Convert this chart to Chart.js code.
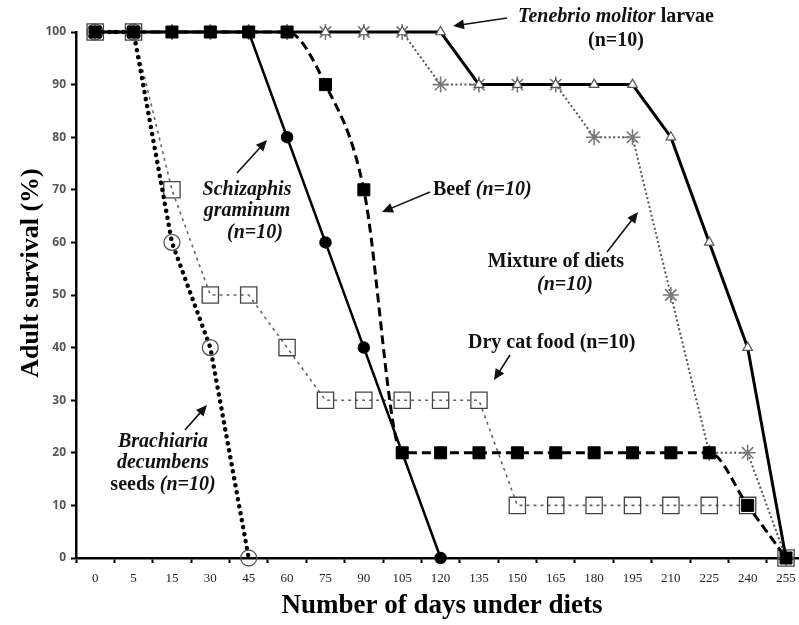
<!DOCTYPE html>
<html>
<head>
<meta charset="utf-8">
<script src="https://cdn.jsdelivr.net/npm/chart.js@4.4.1/dist/chart.umd.min.js"></script>
<style>
    html, body { margin: 0; padding: 0; background: #fff; overflow: hidden; }
    #wrap { position: relative; width: 818px; height: 625px; }
</style>
</head>
<body>
<div id="wrap"><canvas id="survivalChart" width="818" height="625"></canvas></div>
<script>
// Days under diets (category axis)
const days = ['0', '5', '15', '30', '45', '60', '75', '90', '105', '120', '135', '150', '165', '180', '195', '210', '225', '240', '255'];
const yTicks = [0, 10, 20, 30, 40, 50, 60, 70, 80, 90, 100];

// Adult survival (%) per diet
const tenebrio   = [100, 100, 100, 100, 100, 100, 100, 100, 100, 100, 90, 90, 90, 90, 90, 80, 60, 40, 0];
const mixture    = [100, 100, 100, 100, 100, 100, 100, 100, 100, 90, 90, 90, 90, 80, 80, 50, 20, 20, 0];
const beef       = [100, 100, 100, 100, 100, 100, 90, 70, 20, 20, 20, 20, 20, 20, 20, 20, 20, 10, 0];
const schizaphis = [100, 100, 100, 100, 100, 80, 60, 40, 20, 0, null, null, null, null, null, null, null, null, null];
const dryCatFood = [100, 100, 70, 50, 50, 40, 30, 30, 30, 30, 30, 10, 10, 10, 10, 10, 10, 10, 0];
const brachiaria = [100, 100, 60, 40, 0, null, null, null, null, null, null, null, null, null, null, null, null, null, null];

const SERIF = "'Liberation Serif', 'DejaVu Serif', serif";
const SANS = "'Open Sans', 'DejaVu Sans', sans-serif";

// Annotation labels with arrows, drawn on top of the chart
const notes = [
    { align: 'center', x: 616, lines: [
        { y: 17, parts: [['Tenebrio molitor', true], [' larvae', false]] },
        { y: 41, parts: [['(n=10)', false]] }
    ], arrow: [507, 18, 453, 26] },
    { align: 'center', x: 247, lines: [
        { y: 190, parts: [['Schizaphis', true]] },
        { y: 211, parts: [['graminum', true]] },
        { y: 233, parts: [['(n=10)', true]], dx: 8 }
    ], arrow: [237, 173, 267, 140] },
    { align: 'left', x: 433, lines: [
        { y: 190, parts: [['Beef ', false], ['(n=10)', true]] }
    ], arrow: [430, 192, 382, 212] },
    { align: 'center', x: 556, lines: [
        { y: 262, parts: [['Mixture of diets', false]] },
        { y: 285, parts: [['(n=10)', true]], dx: 9 }
    ], arrow: [607, 252, 638, 212] },
    { align: 'left', x: 468, lines: [
        { y: 343, parts: [['Dry cat food (n=10)', false]] }
    ], arrow: [510, 355, 494, 380] },
    { align: 'center', x: 163, lines: [
        { y: 442, parts: [['Brachiaria', true]] },
        { y: 463, parts: [['decumbens', true]] },
        { y: 485, parts: [['seeds ', false], ['(n=10)', true]] }
    ], arrow: [185, 430, 207, 405] }
];

function fontFor(italic) {
    return (italic ? 'italic ' : '') + 'bold 20px ' + SERIF;
}

function drawArrow(ctx, x1, y1, x2, y2) {
    const ang = Math.atan2(y2 - y1, x2 - x1);
    const head = 11, half = 5;
    ctx.save();
    ctx.strokeStyle = '#111';
    ctx.fillStyle = '#111';
    ctx.lineWidth = 1.6;
    ctx.beginPath();
    ctx.moveTo(x1, y1);
    ctx.lineTo(x2 - Math.cos(ang) * head * 0.8, y2 - Math.sin(ang) * head * 0.8);
    ctx.stroke();
    ctx.beginPath();
    ctx.moveTo(x2, y2);
    ctx.lineTo(x2 - Math.cos(ang) * head + Math.sin(ang) * half, y2 - Math.sin(ang) * head - Math.cos(ang) * half);
    ctx.lineTo(x2 - Math.cos(ang) * head - Math.sin(ang) * half, y2 - Math.sin(ang) * head + Math.cos(ang) * half);
    ctx.closePath();
    ctx.fill();
    ctx.restore();
}

const notesPlugin = {
    id: 'notes',
    afterDraw(chart) {
        const ctx = chart.ctx;
        ctx.save();
        ctx.fillStyle = '#111';
        ctx.textBaseline = 'middle';
        ctx.textAlign = 'left';
        notes.forEach(note => {
            note.lines.forEach(line => {
                let total = 0;
                line.parts.forEach(p => {
                    ctx.font = fontFor(p[1]);
                    total += ctx.measureText(p[0]).width;
                });
                let x = note.align === 'center' ? note.x - total / 2 : note.x;
                x += line.dx || 0;
                line.parts.forEach(p => {
                    ctx.font = fontFor(p[1]);
                    ctx.fillText(p[0], x, line.y);
                    x += ctx.measureText(p[0]).width;
                });
            });
            const a = note.arrow;
            drawArrow(ctx, a[0], a[1], a[2], a[3]);
        });

        // y axis title, sits a bit above the centre of the plot
        ctx.translate(31, 273);
        ctx.rotate(-Math.PI / 2);
        ctx.textAlign = 'center';
        ctx.font = 'bold 26px ' + SERIF;
        ctx.fillStyle = '#000';
        ctx.fillText('Adult survival (%)', 0, 0);
        ctx.restore();

        // x axis title, centred on the plot like the original
        ctx.save();
        ctx.textAlign = 'center';
        ctx.textBaseline = 'middle';
        ctx.font = 'bold 27px ' + SERIF;
        ctx.fillStyle = '#000';
        ctx.fillText('Number of days under diets', 442, 606);
        ctx.restore();
    }
};

const ctx = document.getElementById('survivalChart').getContext('2d');
new Chart(ctx, {
    type: 'line',
    data: {
        labels: days,
        datasets: [
            {
                label: 'Beef',
                data: beef,
                borderColor: '#000',
                borderWidth: 3,
                borderDash: [9, 5],
                cubicInterpolationMode: 'monotone',
                pointStyle: 'rect',
                pointRadius: 8.5,
                pointBackgroundColor: '#000',
                pointBorderColor: '#000',
                pointBorderWidth: 1
            },
            {
                label: 'Schizaphis graminum',
                data: schizaphis,
                borderColor: '#000',
                borderWidth: 2.5,
                pointStyle: 'circle',
                pointRadius: 5,
                pointBackgroundColor: '#000',
                pointBorderColor: '#000'
            },
            {
                label: 'Brachiaria decumbens seeds',
                data: brachiaria,
                borderColor: '#000',
                borderWidth: 4.5,
                borderDash: [0.1, 7],
                borderCapStyle: 'round',
                pointStyle: 'circle',
                pointRadius: 8,
                pointBackgroundColor: 'rgba(255,255,255,0)',
                pointBorderColor: '#555',
                pointBorderWidth: 1.3
            },
            {
                label: 'Tenebrio molitor larvae',
                data: tenebrio,
                borderColor: '#000',
                borderWidth: 3,
                pointStyle: 'triangle',
                pointRadius: 5.5,
                pointBackgroundColor: '#fff',
                pointBorderColor: '#555',
                pointBorderWidth: 1.2
            },
            {
                label: 'Mixture of diets',
                data: mixture,
                borderColor: '#555',
                borderWidth: 2,
                borderDash: [2, 2.5],
                pointStyle: 'star',
                pointRadius: 8,
                pointBackgroundColor: 'rgba(0,0,0,0)',
                pointBorderColor: '#777',
                pointBorderWidth: 1.6
            },
            {
                label: 'Dry cat food',
                data: dryCatFood,
                borderColor: '#666',
                borderWidth: 1.6,
                borderDash: [3, 4],
                pointStyle: 'rect',
                pointRadius: 11.5,
                pointBackgroundColor: 'rgba(255,255,255,0)',
                pointBorderColor: '#444',
                pointBorderWidth: 1.3
            }
        ]
    },
    options: {
        responsive: false,
        animation: false,
        clip: false,
        layout: { padding: { top: 32, left: 0, right: 0, bottom: 0 } },
        plugins: {
            legend: { display: false },
            tooltip: { enabled: false }
        },
        scales: {
            x: {
                type: 'category',
                offset: true,
                afterFit: scale => { scale.height = 67; },
                grid: {
                    offset: true,
                    drawOnChartArea: false,
                    drawTicks: true,
                    tickLength: 5,
                    tickWidth: 2,
                    color: '#000'
                },
                border: { color: '#000', width: 2.5 },
                ticks: {
                    color: '#222',
                    padding: 8,
                    maxRotation: 0,
                    autoSkip: false,
                    font: { family: SERIF, size: 13 }
                }
            },
            y: {
                min: 0,
                max: 100,
                afterFit: scale => { scale.width = 76; },
                afterBuildTicks: scale => { scale.ticks = yTicks.map(v => ({ value: v })); },
                grid: {
                    drawOnChartArea: false,
                    drawTicks: true,
                    tickLength: 5,
                    tickWidth: 2,
                    color: '#000'
                },
                border: { color: '#000', width: 2.5 },
                ticks: {
                    color: '#555',
                    padding: 5,
                    font: { family: SANS, size: 12, weight: 'bold' }
                }
            }
        }
    },
    plugins: [notesPlugin]
});
</script>
</body>
</html>
